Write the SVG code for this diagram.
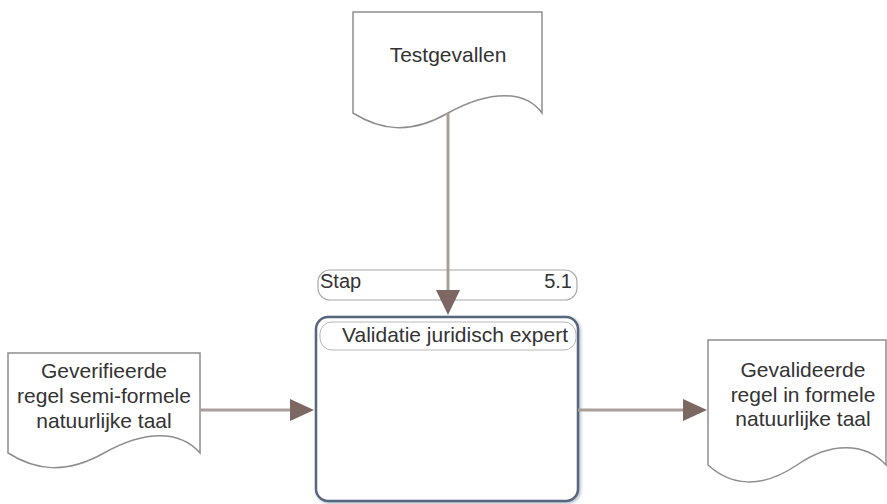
<svg xmlns="http://www.w3.org/2000/svg" width="887" height="504" viewBox="0 0 887 504">
<defs>
<style>
text{font-family:"Liberation Sans",Arial,sans-serif;font-size:21px;fill:#333}
.doc{fill:#fff;stroke:#8e8e8e;stroke-width:1.5}
.conn{stroke:#aa9e9a;stroke-width:3;fill:none}
.head{fill:#7c6763}
.c{text-anchor:middle}
</style>
<filter id="sh" x="-10%" y="-10%" width="120%" height="120%">
<feDropShadow dx="1.5" dy="1.5" stdDeviation="1.5" flood-color="#8090a0" flood-opacity="0.6"/>
</filter>
</defs>
<rect width="887" height="504" fill="#fff"/>
<g id="testgevallen">
<path class="doc" d="M353,12 H542 V113 C525,90 490,90 448,113 C410,135 380,130 353,113 Z"/>
<text class="c" x="448" y="62">Testgevallen</text>
</g>
<g id="geverifieerde">
<path class="doc" d="M8,353 H200 V453 C180,430 145,430 104,453 C65,475 35,470 8,453 Z"/>
<text class="c" x="104" y="378">Geverifieerde</text>
<text class="c" x="104" y="403">regel semi-formele</text>
<text class="c" x="104" y="428">natuurlijke taal</text>
</g>
<g id="gevalideerde">
<path class="doc" d="M708,340 H886 V465 C865,442 830,442 797,465 C760,490 730,485 708,465 Z"/>
<text class="c" x="803" y="377">Gevalideerde</text>
<text class="c" x="803" y="402">regel in formele</text>
<text class="c" x="803" y="426">natuurlijke taal</text>
</g>
<g id="stap">
<rect x="318" y="270" width="259" height="30" rx="12" fill="#fff" stroke="#a8a8a8" stroke-width="1.2"/>
<text x="320" y="288" style="font-size:20px">Stap</text>
<text x="572" y="288" style="font-size:20px;text-anchor:end">5.1</text>
</g>
<g id="validatie">
<rect x="316" y="317" width="262" height="184" rx="12" fill="#fff" stroke="#56667e" stroke-width="2.5" filter="url(#sh)"/>
<rect x="320" y="322" width="256" height="28" rx="12" fill="#fff" stroke="#b8b8b8" stroke-width="1"/>
<text x="342" y="342">Validatie juridisch expert</text>
</g>
<g id="connectors">
<line class="conn" x1="448" y1="113" x2="448" y2="292"/>
<polygon class="head" points="436,290 460,290 448,315"/>
<line class="conn" x1="200" y1="410" x2="292" y2="410"/>
<polygon class="head" points="290,399 290,421 314,410"/>
<line class="conn" x1="578" y1="410" x2="685" y2="410"/>
<polygon class="head" points="683,399 683,421 707,410"/>
</g>
</svg>
